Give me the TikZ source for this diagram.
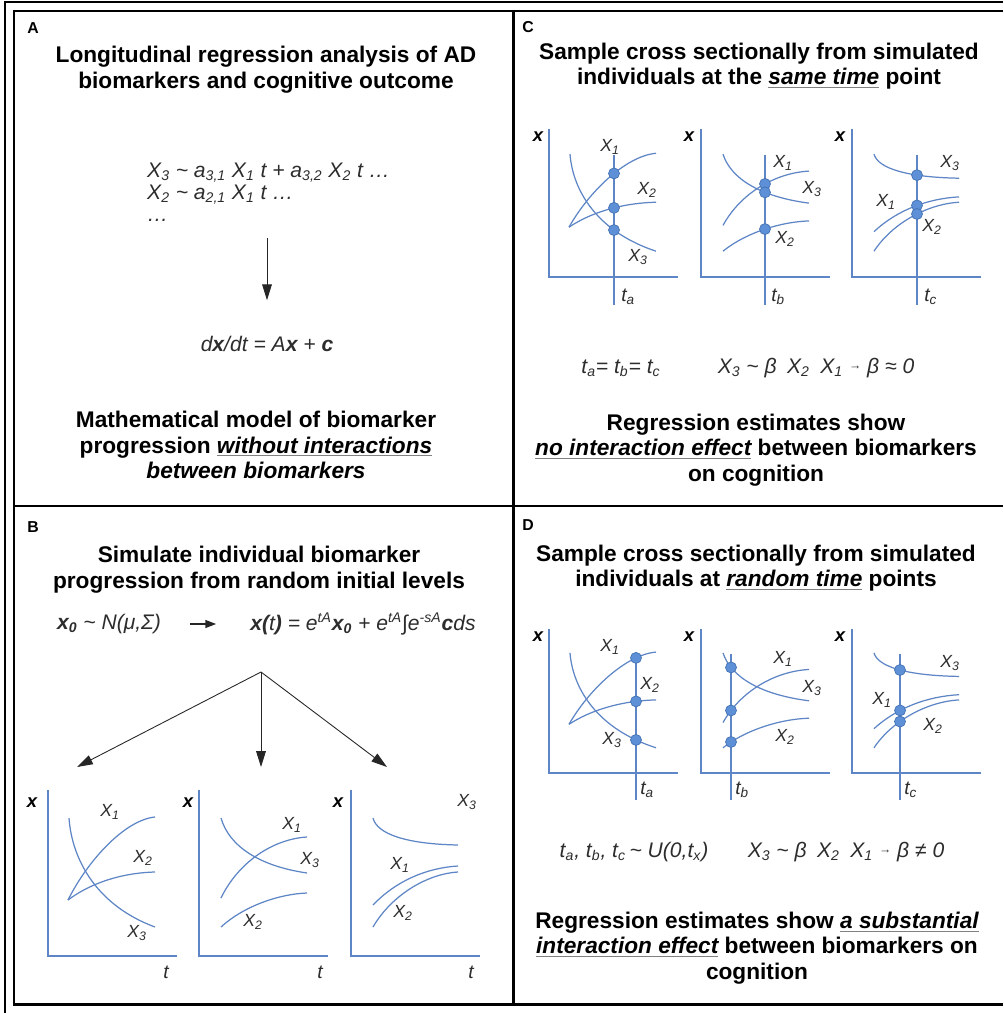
\documentclass[tikz,border=0pt]{standalone}
\usepackage{fontspec}
\setmainfont{Liberation Sans}
\usepackage{tikz}
\usetikzlibrary{arrows.meta, intersections, positioning}

\definecolor{plotblue}{RGB}{94,134,198}
\definecolor{dotblue}{RGB}{93,144,214}
\definecolor{dotedge}{RGB}{68,114,180}
\definecolor{eqgray}{RGB}{45,45,45}

\tikzset{
	titletext/.style={font=\fontsize{12.9}{14.6}\selectfont\bfseries, align=center}
}
\tikzset{
	eqtext/.style={font=\fontsize{12}{12.6}\selectfont\itshape, text=eqgray},
	curvelabel/.style={font=\fontsize{10}{11}\selectfont\itshape, text=eqgray, inner sep=0pt},
	timelabel/.style={font=\fontsize{11}{12}\selectfont\itshape, text=eqgray, inner sep=0pt},
	axislabel/.style={font=\fontsize{10.5}{11}\selectfont\bfseries\itshape, inner sep=0pt},
	panelletter/.style={font=\fontsize{9}{10}\selectfont\bfseries, inner sep=0pt},
	curve/.style={plotblue, line width=0.7pt},
	dot/.style={circle, fill=dotblue, draw=dotedge, line width=0.4pt, minimum size=0.22cm, inner sep=0pt},
	flow/.style={-{Triangle[length=9pt,width=5.5pt]}, line width=0.5pt, black!85},
	frame/.style={line width=1.7pt}
}
\newcommand{\ulit}[1]{{\color{gray}\underline{\color{black}\itshape #1}}}
\newcommand{\subs}[1]{\textsubscript{#1}}
\newcommand{\smallto}{\raisebox{2.2pt}{\fontsize{7}{8}\selectfont →}}

% one plot = axes + three curves, origin at the axis corner
\newcommand{\plotaxes}{\draw[curve] (0,-166) -- (0,0) -- (129,0);}
\newcommand{\famone}{%
  \draw[curve, name path=xone] (20,-56) .. controls (40,-96) and (77,-136) .. (107,-139);
  \draw[curve, name path=xtwo] (20,-56) .. controls (40,-71) and (70,-83) .. (107,-84);
  \draw[curve, name path=xthree] (21,-138) .. controls (24,-95) and (50,-50) .. (107,-29);
}
\newcommand{\famtwo}{%
  \draw[curve, name path=xthree] (22,-138) .. controls (30,-110) and (60,-90) .. (108,-83);
  \draw[curve, name path=xone] (22,-58) .. controls (40,-95) and (75,-117) .. (108,-119);
  \draw[curve, name path=xtwo] (22,-29) .. controls (45,-50) and (80,-62) .. (108,-63);
}
\newcommand{\famthree}{%
  \draw[curve, name path=xthree] (22,-138) .. controls (26,-122) and (55,-112) .. (107,-111);
  \draw[curve, name path=xone] (22,-51) .. controls (45,-75) and (75,-88) .. (107,-90);
  \draw[curve, name path=xtwo] (22,-29) .. controls (40,-60) and (75,-82) .. (107,-84);
}
% vertical sampling line, dots where it meets the curves
\newcommand{\sampleat}[1]{%
  \draw[curve, name path=tline] (#1,-137) -- (#1,31);
  \path[name intersections={of=xone and tline, by=pone}];
  \path[name intersections={of=xtwo and tline, by=ptwo}];
  \path[name intersections={of=xthree and tline, by=pthree}];
  \node[dot] (done) at (pone) {};
  \node[dot] (dtwo) at (ptwo) {};
  \node[dot] (dthree) at (pthree) {};
}

\begin{document}
\begin{tikzpicture}[x=0.02cm, y=-0.02cm]
  \useasboundingbox (0,0) rectangle (1003,1013);
  \fill[white] (0,0) rectangle (1003,1013);

  % frame and panel dividers
  \draw[line width=0.7pt] (5,1013) -- (5,2) -- (1003,2);
  \draw[frame] (1003,11) -- (14,11) -- (14,1004) -- (1003,1004);
  \draw[frame] (513,11) -- (513,1004);
  \draw[frame] (14,506) -- (1003,506);

  %% A
  \node[panelletter] (letA) at (33,28) {A};
  \node[titletext] (titleA) at (266,70) {Longitudinal regression analysis of AD\\biomarkers and cognitive outcome};
  \node[eqtext, align=left, anchor=west] (eqA) at (141,192) {%
    X\subs{3} \textasciitilde{} a\subs{3,1} X\subs{1} t + a\subs{3,2} X\subs{2} t …\\
    X\subs{2} \textasciitilde{} a\subs{2,1} X\subs{1} t …\\
    …};
  \node[eqtext] (odeA) at (267,344) {d{\bfseries x}/dt = A{\bfseries x} + {\bfseries c}};
  \draw[flow, shorten <=6pt, shorten >=17pt] (eqA.south -| odeA.north) -- (odeA.north);
  \node[titletext] (modelA) at (256,445) {Mathematical model of biomarker\\progression \ulit{without interactions}\\{\itshape between biomarkers}};

  %% B
  \node[panelletter] (letB) at (33,527) {B};
  \node[titletext] (titleB) at (259,570) {Simulate individual biomarker\\progression from random initial levels};
  \node[eqtext] (xzero) at (109,624) {{\bfseries x\subs{0}} \textasciitilde{} N(μ,Σ)};
  \node[eqtext] (xsol) at (363,624) {{\bfseries x(}t{\bfseries )} = e\textsuperscript{tA}{\bfseries x\subs{0}} + e\textsuperscript{tA}∫e\textsuperscript{-sA}{\bfseries c}ds};
  \draw[-{Triangle[length=6pt,width=4.5pt]}, line width=0.6pt, black!85, shorten <=13pt, shorten >=16pt] (xzero.east) -- (xsol.west);
  \coordinate (fork) at (261,672);
  \coordinate (toplotone) at (77,767);
  \coordinate (toplottwo) at (261,767);
  \coordinate (toplotthree) at (387,767);
  \draw[flow] (fork) -- (toplotone);
  \draw[flow] (fork) -- (toplottwo);
  \draw[flow] (fork) -- (toplotthree);

  \begin{scope}[shift={(48,956)}]
    \plotaxes
    \famone
  \end{scope}
  \begin{scope}[shift={(199,956)}]
    \plotaxes
    \famtwo
  \end{scope}
  \begin{scope}[shift={(351,956)}]
    \plotaxes
    \famthree
  \end{scope}
  \node[axislabel] (bxone) at (32,803) {x};
  \node[axislabel] (bxtwo) at (188,803) {x};
  \node[axislabel] (bxthree) at (338,803) {x};
  \node[timelabel] (btone) at (166,972) {t};
  \node[timelabel] (bttwo) at (320,972) {t};
  \node[timelabel] (btthree) at (471,972) {t};
  \node[curvelabel] at (110,812) (bla) {X\subs{1}};
  \node[curvelabel] at (143,858) (blb) {X\subs{2}};
  \node[curvelabel] at (137,933) (blc) {X\subs{3}};
  \node[curvelabel] at (292,825) (bld) {X\subs{1}};
  \node[curvelabel] at (310,860) (ble) {X\subs{3}};
  \node[curvelabel] at (253,922) (blf) {X\subs{2}};
  \node[curvelabel] at (467,802) (blg) {X\subs{3}};
  \node[curvelabel] at (400,865) (blh) {X\subs{1}};
  \node[curvelabel] at (403,913) (bli) {X\subs{2}};

  %% C
  \node[panelletter] (letC) at (528,27) {C};
  \node[titletext] (titleC) at (759,66) {Sample cross sectionally from simulated\\individuals at the \ulit{same time} point};
  \begin{scope}[shift={(549,277)}, yscale=0.89]
    \plotaxes
    \famone
    \sampleat{65}
  \end{scope}
  \begin{scope}[shift={(701,277)}, yscale=0.89]
    \plotaxes
    \famtwo
    \sampleat{64}
  \end{scope}
  \begin{scope}[shift={(852,277)}, yscale=0.89]
    \plotaxes
    \famthree
    \sampleat{65}
  \end{scope}
  \node[axislabel] (cxone) at (538,137) {x};
  \node[axislabel] (cxtwo) at (689,137) {x};
  \node[axislabel] (cxthree) at (840,137) {x};
  \node[timelabel, anchor=west] (ctone) at (621,297) {t\subs{a}};
  \node[timelabel, anchor=west] (cttwo) at (771,297) {t\subs{b}};
  \node[timelabel, anchor=west] (ctthree) at (924,297) {t\subs{c}};
  \node[curvelabel] at (610,147) (cla) {X\subs{1}};
  \node[curvelabel] at (647,190) (clb) {X\subs{2}};
  \node[curvelabel] at (638,257) (clc) {X\subs{3}};
  \node[curvelabel] at (783,163) (cld) {X\subs{1}};
  \node[curvelabel] at (812,189) (cle) {X\subs{3}};
  \node[curvelabel] at (785,239) (clf) {X\subs{2}};
  \node[curvelabel] at (950,163) (clg) {X\subs{3}};
  \node[curvelabel] at (886,202) (clh) {X\subs{1}};
  \node[curvelabel] at (932,227) (cli) {X\subs{2}};
  \node[eqtext] (timesC) at (621,368) {t\subs{a}= t\subs{b}= t\subs{c}};
  \node[eqtext] (betaC) at (816,368) {X\subs{3} \textasciitilde{} β\enspace X\subs{2}\enspace X\subs{1} \smallto{} β ≈ 0};
  \node[titletext] (resultC) at (756,450) {Regression estimates show\\\ulit{no interaction effect} between biomarkers\\on cognition};

  %% D
  \node[panelletter] (letD) at (528,525) {D};
  \node[titletext] (titleD) at (756,568) {Sample cross sectionally from simulated\\individuals at \ulit{random time} points};
  \begin{scope}[shift={(549,773)}, yscale=0.87]
    \plotaxes
    \famone
    \sampleat{87}
  \end{scope}
  \begin{scope}[shift={(701,773)}, yscale=0.87]
    \plotaxes
    \famtwo
    \sampleat{30}
  \end{scope}
  \begin{scope}[shift={(852,773)}, yscale=0.87]
    \plotaxes
    \famthree
    \sampleat{48}
  \end{scope}
  \node[axislabel] (dxone) at (538,637) {x};
  \node[axislabel] (dxtwo) at (689,637) {x};
  \node[axislabel] (dxthree) at (840,637) {x};
  \node[timelabel, anchor=west] (dtone) at (640,790) {t\subs{a}};
  \node[timelabel, anchor=west] (dttwo) at (735,790) {t\subs{b}};
  \node[timelabel, anchor=west] (dtthree) at (904,790) {t\subs{c}};
  \node[curvelabel] at (610,647) (dla) {X\subs{1}};
  \node[curvelabel] at (650,685) (dlb) {X\subs{2}};
  \node[curvelabel] at (612,740) (dlc) {X\subs{3}};
  \node[curvelabel] at (783,659) (dld) {X\subs{1}};
  \node[curvelabel] at (812,688) (dle) {X\subs{3}};
  \node[curvelabel] at (785,737) (dlf) {X\subs{2}};
  \node[curvelabel] at (950,663) (dlg) {X\subs{3}};
  \node[curvelabel] at (882,700) (dlh) {X\subs{1}};
  \node[curvelabel] at (933,726) (dli) {X\subs{2}};
  \node[eqtext] (timesD) at (634,852) {t\subs{a}, t\subs{b}, t\subs{c}\,\textasciitilde{} U(0,t\subs{x})};
  \node[eqtext] (betaD) at (846,852) {X\subs{3} \textasciitilde{} β\enspace X\subs{2}\enspace X\subs{1} \smallto{} β ≠ 0};
  \node[titletext] (resultD) at (757,948) {Regression estimates show \ulit{a substantial}\\\ulit{interaction effect} between biomarkers on\\cognition};
\end{tikzpicture}
\end{document}
